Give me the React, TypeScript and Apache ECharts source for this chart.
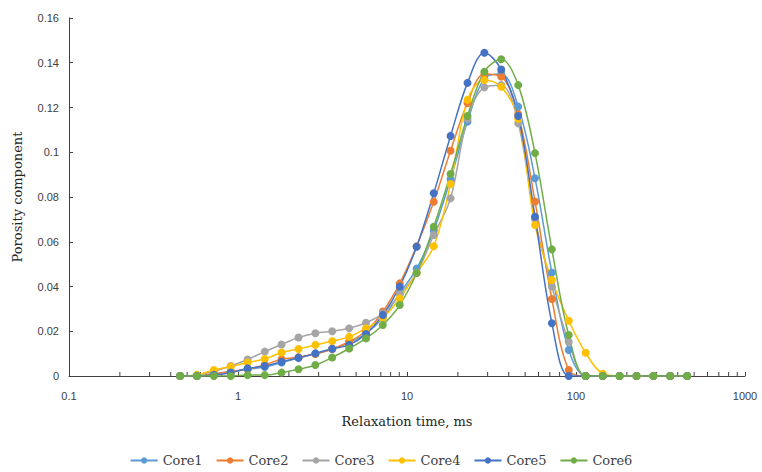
import React, { useEffect, useRef } from "react";
import * as echarts from "echarts";

const relaxationTimes = [
  0.454, 0.572, 0.72, 0.906, 1.14, 1.44, 1.81, 2.28, 2.87, 3.61, 4.55, 5.72, 7.2, 9.06, 11.4, 14.4,
  18.1, 22.8, 28.7, 36.1, 45.5, 57.2, 72.0, 90.6, 114, 144, 181, 228, 287, 361, 455,
];

const core1 = [0, 0, 0.001, 0.002, 0.003, 0.004, 0.006, 0.008, 0.010, 0.012, 0.015, 0.019, 0.026, 0.037, 0.048, 0.065, 0.088, 0.1137, 0.133, 0.135, 0.1204, 0.0884, 0.0462, 0.0116, 0, 0, 0, 0, 0, 0, 0];
const core2 = [0, 0, 0.001, 0.002, 0.003, 0.005, 0.0075, 0.0084, 0.0098, 0.0121, 0.0153, 0.0201, 0.0288, 0.0414, 0.058, 0.0779, 0.1007, 0.122, 0.135, 0.1338, 0.117, 0.078, 0.0344, 0.0027, 0, 0, 0, 0, 0, 0, 0];
const core3 = [0, 0.0005, 0.002, 0.0045, 0.0074, 0.0109, 0.0141, 0.0172, 0.0191, 0.0200, 0.0213, 0.0238, 0.028, 0.0365, 0.046, 0.063, 0.0794, 0.115, 0.129, 0.130, 0.113, 0.070, 0.040, 0.0153, 0, 0, 0, 0, 0, 0, 0];
const core4 = [0, 0.0005, 0.0027, 0.0042, 0.006, 0.0076, 0.0105, 0.0121, 0.0139, 0.0156, 0.0175, 0.0213, 0.026, 0.0347, 0.046, 0.058, 0.0858, 0.1234, 0.1323, 0.1293, 0.115, 0.0675, 0.0429, 0.0247, 0.0104, 0.001, 0, 0, 0, 0, 0];
const core5 = [0, 0, 0.0005, 0.0015, 0.0034, 0.0045, 0.0064, 0.0082, 0.0101, 0.0122, 0.0139, 0.0188, 0.0273, 0.040, 0.0578, 0.0817, 0.1073, 0.131, 0.1445, 0.137, 0.1162, 0.0712, 0.0236, 0, 0, 0, 0, 0, 0, 0, 0];
const core6 = [0, 0, 0, 0, 0.0004, 0.0004, 0.0015, 0.003, 0.0049, 0.0083, 0.0123, 0.0168, 0.0228, 0.0317, 0.046, 0.0667, 0.0903, 0.1162, 0.136, 0.1416, 0.130, 0.0996, 0.0566, 0.0183, 0, 0, 0, 0, 0, 0, 0];

const seriesNames = ["Core1", "Core2", "Core3", "Core4", "Core5", "Core6"];
const seriesValues = [core1, core2, core3, core4, core5, core6];
const seriesColors = ["#5B9BD5", "#ED7D31", "#A5A5A5", "#FFC000", "#4472C4", "#70AD47"];

const xTickLabels = ["0.1", "1", "10", "100", "1000"];

const SERIF = "DejaVu Serif";
const SANS = "Liberation Sans";

export default function App() {
  const ref = useRef<HTMLDivElement>(null);
  useEffect(() => {
    if (!ref.current) return;
    const chart = echarts.init(ref.current, null, { renderer: "svg" });

    const minorTicks: number[][] = [];
    for (let d = -1; d < 3; d++) {
      for (let k = 2; k <= 9; k++) minorTicks.push([k * Math.pow(10, d), 0]);
    }

    const lineSeries = seriesNames.map((name, i) => ({
      name,
      type: "line",
      smooth: 0.35,
      symbol: "circle",
      symbolSize: 8,
      showSymbol: true,
      data: relaxationTimes.map((t, j) => [t, seriesValues[i][j]]),
      lineStyle: { width: 1.5, color: seriesColors[i] },
      itemStyle: { color: seriesColors[i] },
      z: 3,
    }));

    chart.setOption({
      animation: false,
      backgroundColor: "#ffffff",
      grid: { left: 69, right: 17, top: 18, bottom: 96 },
      legend: {
        data: seriesNames,
        bottom: 0,
        left: "center",
        itemWidth: 27,
        itemHeight: 8,
        itemGap: 13,
        textStyle: { fontFamily: SERIF, fontSize: 13, color: "#404040" },
      },
      xAxis: {
        type: "log",
        logBase: 10,
        min: 0.1,
        max: 1000,
        name: "Relaxation time, ms",
        nameLocation: "middle",
        nameGap: 39,
        nameTextStyle: { fontFamily: SERIF, fontSize: 13, color: "#262626" },
        axisLine: { lineStyle: { color: "#404040", width: 1 } },
        axisTick: { inside: true, length: 4, lineStyle: { color: "#404040" } },
        axisLabel: {
          margin: 14,
          fontFamily: SANS,
          fontSize: 11,
          color: "#404040",
          formatter: (v: number) => {
            const idx = Math.round(Math.log10(v)) + 1;
            return xTickLabels[idx] ?? String(v);
          },
        },
        splitLine: { show: false },
      },
      yAxis: {
        type: "value",
        min: 0,
        max: 0.16,
        interval: 0.02,
        name: "Porosity component",
        nameLocation: "middle",
        nameGap: 45,
        nameTextStyle: { fontFamily: SERIF, fontSize: 13, color: "#262626" },
        axisLine: { show: true, lineStyle: { color: "#404040", width: 1 } },
        axisTick: { show: true, inside: true, length: 4, lineStyle: { color: "#404040" } },
        axisLabel: {
          margin: 10,
          fontFamily: SANS,
          fontSize: 11,
          color: "#404040",
          formatter: (v: number) => String(parseFloat(v.toFixed(2))),
        },
        splitLine: { show: false },
      },
      series: [
        {
          name: "minorTicks",
          type: "custom",
          silent: true,
          z: 1,
          data: minorTicks,
          encode: { x: 0, y: 1 },
          renderItem: (_params: any, api: any) => {
            const p = api.coord([api.value(0), 0]);
            return {
              type: "line",
              shape: { x1: p[0], y1: p[1], x2: p[0], y2: p[1] - 4 },
              style: { stroke: "#404040", lineWidth: 1 },
            };
          },
        },
        ...lineSeries,
      ],
    });
    return () => chart.dispose();
  }, []);
  return (
    <div
      ref={ref}
      style={{ position: "absolute", left: 0, top: 0, width: 762, height: 472 }}
    />
  );
}
